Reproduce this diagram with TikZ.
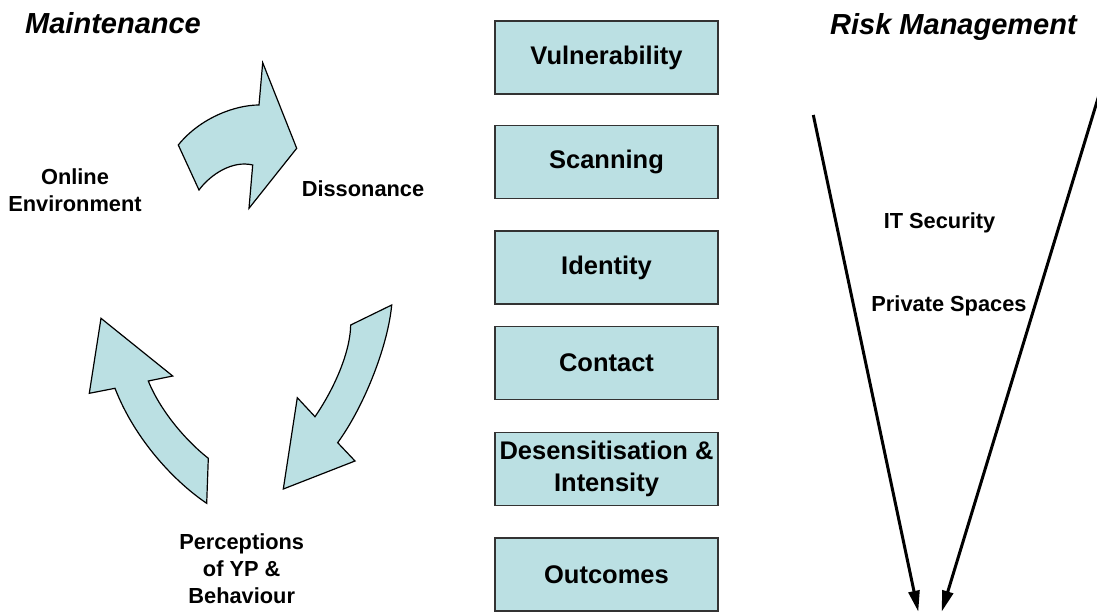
\documentclass[tikz,border=0pt]{standalone}
\usepackage{fontspec}
\setmainfont{Liberation Sans}
\usetikzlibrary{arrows.meta}
\definecolor{boxfill}{RGB}{187,224,227}
\begin{document}
\begin{tikzpicture}[x=1pt,y=-1pt,
  stagebox/.style={draw=black!80, line width=1.2pt, fill=boxfill, minimum width=223pt, minimum height=73pt, inner sep=0pt, align=center, font=\fontsize{25.5}{31.5}\selectfont\bfseries},
  cyclelabel/.style={align=center, font=\fontsize{21.8}{26.7}\selectfont\bfseries},
  titletext/.style={font=\fontsize{29}{34}\selectfont\bfseries\itshape, anchor=base west, inner sep=0pt},
  plainlabel/.style={font=\fontsize{21.8}{26.7}\selectfont\bfseries, anchor=base, inner sep=0pt},
  cyclearrow/.style={draw=black, line width=1.2pt, fill=boxfill, line join=miter},
  funnel/.style={line width=3pt, -{Triangle[length=21pt,width=11pt]}}
]
\useasboundingbox (0,0) rectangle (1097,612);

% titles
\node[titletext] (tmaint) at (25,34) {Maintenance};
\node[titletext] (trisk) at (830,35) {Risk Management};

% stage boxes
\node[stagebox] (vul) at (606.5,57.5) {Vulnerability};
\node[stagebox] (scan) at (606.5,162) {Scanning};
\node[stagebox] (ident) at (606.5,267.5) {Identity};
\node[stagebox] (cont) at (606.5,363) {Contact};
\node[stagebox] (des) at (606.5,469) {Desensitisation \&\\Intensity};
\node[stagebox] (outc) at (606.5,574.5) {Outcomes};

% cycle labels
\node[cyclelabel] (online) at (75,190.4) {Online\\Environment};
\node[plainlabel] (diss) at (363,196.7) {Dissonance};
\node[cyclelabel] (perc) at (241.7,568.7) {Perceptions\\of YP \&\\Behaviour};

% cycle arrows
\path[cyclearrow] (259,105) .. controls (235,105) and (200,118) .. (178.3,145)
  -- (199,190) .. controls (210,175) and (232,160) .. (252.7,165)
  -- (249,208.3) -- (296.7,148.3) -- (262.7,62.7) -- cycle;

\path[cyclearrow] (391.7,305) -- (350.7,325)
  .. controls (350,355) and (332,392) .. (315,416.7)
  -- (297.3,397.7) -- (283.3,489) -- (355,461) -- (337.7,442.7)
  .. controls (365,405) and (388,345) .. cycle;

\path[cyclearrow] (101,318.3) -- (172.7,376) -- (148.3,381)
  .. controls (160,410) and (185,440) .. (208.3,458.3)
  -- (206.7,503.3) .. controls (175,482) and (135,440) .. (115,388.3)
  -- (89.3,393.3) -- cycle;

% risk management funnel
\coordinate (lt) at (813.3,115);
\coordinate (lb) at (918.3,611.7);
\coordinate (rt) at (1099,95);
\coordinate (rb) at (941.7,611.7);
\draw[funnel] (lt) -- (lb);
\draw[funnel] (rt) -- (rb);

\node[plainlabel] (itsec) at (939.5,228.3) {IT Security};
\node[plainlabel] (priv) at (949,311.7) {Private Spaces};
\end{tikzpicture}
\end{document}
